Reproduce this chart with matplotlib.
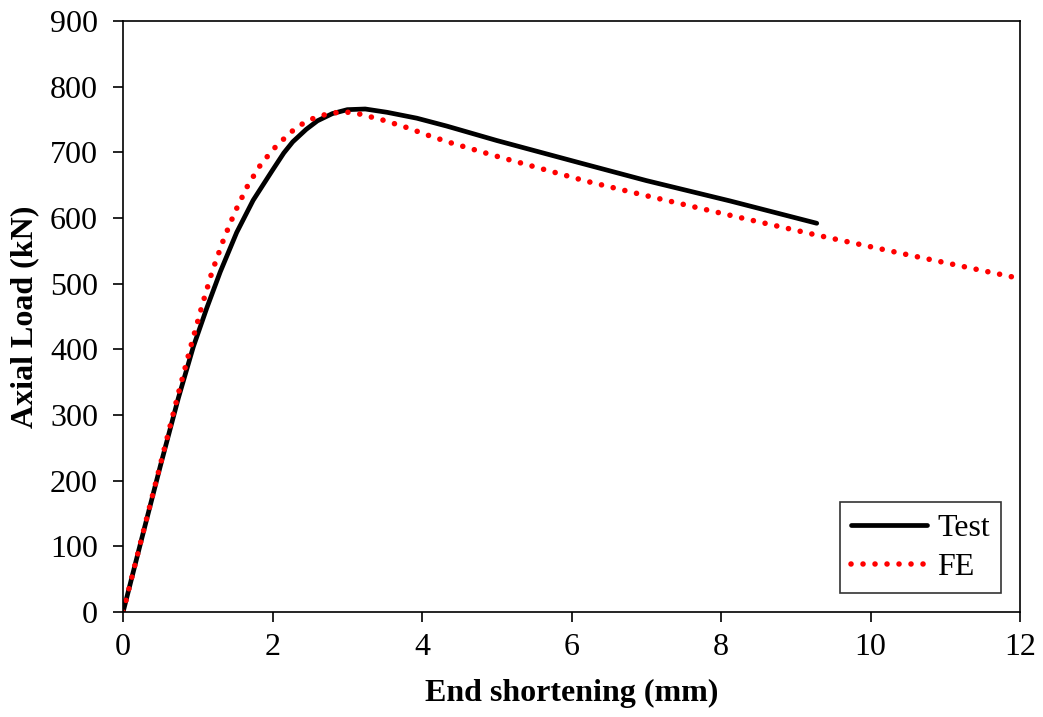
import matplotlib.pyplot as plt

plt.rcParams['font.family'] = ['Liberation Serif', 'DejaVu Serif']

# Test curve (end shortening in mm, axial load in kN)
test_x = [0, 0.25, 0.5, 0.74, 0.94, 1.12, 1.30, 1.52, 1.74, 2.0, 2.15, 2.27,
          2.45, 2.6, 2.8, 3.0, 3.24, 3.53, 3.93, 4.33, 5.0, 6.11, 7.0,
          8.12, 9.28]
test_y = [0, 112, 223, 326, 404, 463, 518, 578, 627, 673, 699, 716,
          735, 748, 759, 765, 766, 761, 752, 740, 718, 684, 657,
          626, 592]

# FE curve
fe_x = [0, 0.25, 0.5, 0.74, 0.90, 1.06, 1.19, 1.35, 1.50, 1.67, 1.85, 2.06,
        2.27, 2.42, 2.57, 2.72, 2.88, 3.03, 3.18, 3.48, 3.79, 4.08, 4.37,
        5.0, 6.2, 7.0, 8.05, 9.28, 10.5, 11.91, 12.0]
fe_y = [0, 113, 225, 333, 402, 468, 518, 569, 610, 650, 683, 711,
        733, 745, 753, 758, 761, 761, 758, 749, 738, 726, 715,
        694, 656, 634, 606, 574, 544, 510, 508]

x_ticks = [0, 2, 4, 6, 8, 10, 12]
y_ticks = [0, 100, 200, 300, 400, 500, 600, 700, 800, 900]

fig = plt.figure(figsize=(10.43, 7.17), dpi=100)
ax = fig.add_axes([0.118, 0.1464, 0.86, 0.8243])

ax.plot(test_x, test_y, color='black', lw=3.4, label='Test',
        solid_capstyle='round', solid_joinstyle='round')
ax.plot(fe_x, fe_y, color='#ff0000', lw=4.0, linestyle=(0, (0.01, 2.15)),
        dash_capstyle='round', label='FE')

ax.set_xlim(0, 12)
ax.set_ylim(0, 900)
ax.set_xticks(x_ticks)
ax.set_yticks(y_ticks)
ax.tick_params(direction='out', length=7, width=1.2, labelsize=23)
ax.tick_params(axis='y', pad=11)
ax.tick_params(axis='x', pad=8)

for s in ax.spines.values():
    s.set_linewidth(1.2)

ax.set_xlabel('End shortening (mm)', fontsize=23, fontweight='bold', labelpad=12)
ax.set_ylabel('Axial Load (kN)', fontsize=23, fontweight='bold', labelpad=8)

leg = ax.legend(loc='lower right', fontsize=23, frameon=True, fancybox=False,
                edgecolor='black', handlelength=2.4, handletextpad=0.3,
                borderaxespad=0.6, borderpad=0.35, labelspacing=0.3)
leg.get_frame().set_linewidth(1.2)

fig.savefig('out.png', dpi=100)
